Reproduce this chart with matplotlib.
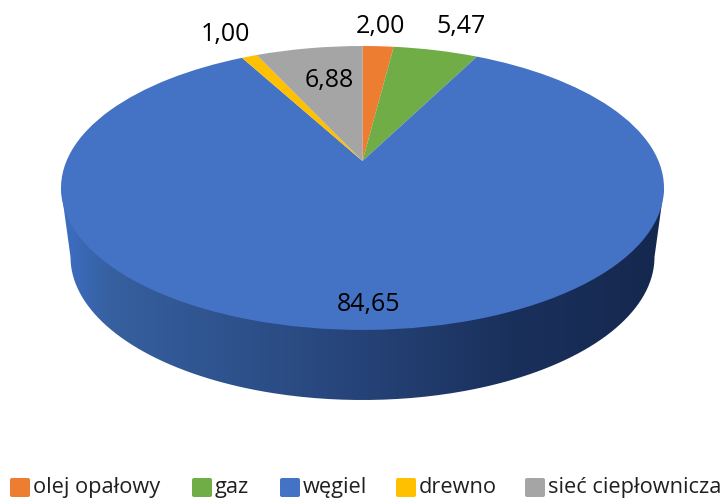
import numpy as np
import matplotlib
matplotlib.use("Agg")
import matplotlib.pyplot as plt
from matplotlib.colors import LinearSegmentedColormap
from matplotlib.patches import FancyBboxPatch, PathPatch
from matplotlib.path import Path
from matplotlib.transforms import Transform

categories = ["olej opałowy", "gaz", "węgiel", "drewno", "sieć ciepłownicza"]
values = [2.00, 5.47, 84.65, 1.00, 6.88]
value_labels = ["2,00", "5,47", "84,65", "1,00", "6,88"]
colors = ["#ED7D31", "#70AD47", "#4472C4", "#FFC000", "#A5A5A5"]

plt.rcParams["font.family"] = ["Open Sans", "DejaVu Sans"]


class TiltTransform(Transform):
    # unit disk -> pixels, projective so the apex sits above the ellipse centre
    input_dims = output_dims = 2

    def transform_non_affine(self, xy):
        xy = np.asarray(xy)
        w = 1 + 0.19 * xy[:, 1]
        return np.column_stack([362.5 + 296 * xy[:, 0] / w, (161 - 106.25 * xy[:, 1]) / w])


fig = plt.figure(figsize=(7.23, 5.0), dpi=100)
ax = fig.add_axes([0, 0, 1, 1])

wedges, _ = ax.pie(values, colors=colors, startangle=90, counterclock=False, radius=1)
tilt = TiltTransform()
for w in wedges:
    w.set_transform(tilt + ax.transData)
    w.set_zorder(3)

ax.set_aspect("auto")
ax.axis("off")

# side wall
t = np.linspace(0, np.pi, 200)
wall_x = np.concatenate([[61], 362.5 - 292 * np.cos(t), [664]])
wall_y = np.concatenate([[188], 257 + 143 * np.sin(t), [188]])
wall = Path(np.column_stack([wall_x, wall_y]))
wall_cmap = LinearSegmentedColormap.from_list(
    "wall", [(0, "#3D6EC4"), (0.08, "#36609F"), (0.4, "#2A4A82"), (0.75, "#1A305C"), (1, "#15284E")]
)
img = ax.imshow(np.linspace(0, 1, 256).reshape(1, -1), cmap=wall_cmap, aspect="auto",
                extent=[61, 664, 410, 180], zorder=1)
img.set_clip_path(PathPatch(wall, transform=ax.transData))
ax.set_xlim(0, 723)
ax.set_ylim(500, 0)

# value labels, same order as values
label_pos = [(380, 26), (461, 26), (369, 305), (225, 35), (329, 81)]
for (x, y), s in zip(label_pos, value_labels):
    ax.text(x, y, s, fontsize=18, color="black", ha="center", va="center", zorder=5)

# legend
legend_x = [10, 192, 280, 396, 525]
for x, name, c in zip(legend_x, categories, colors):
    ax.add_patch(FancyBboxPatch((x + 1, 479), 18, 17, boxstyle="round,pad=1,rounding_size=2",
                                fc=c, ec="none", zorder=5))
    ax.text(x + 23, 487.5, name, fontsize=15.7, color="#202020", ha="left", va="center", zorder=5)

fig.savefig("out.png", dpi=100)
